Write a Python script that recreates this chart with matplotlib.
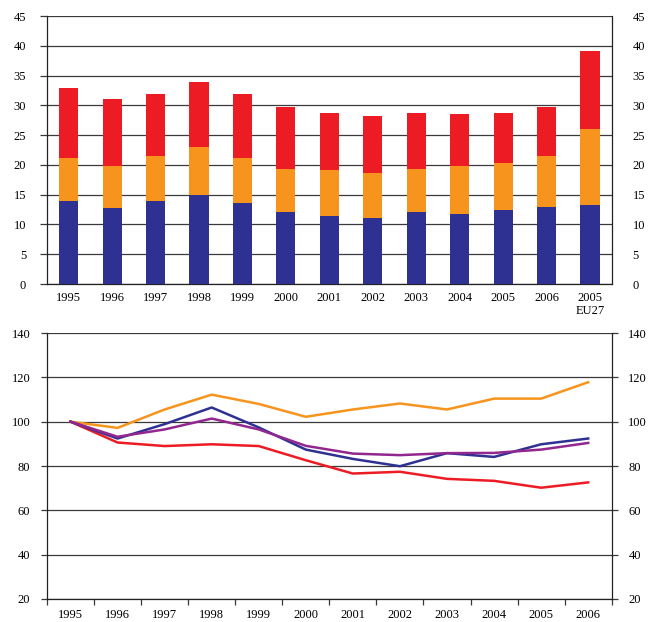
import numpy as np
from matplotlib import pyplot as plt
from matplotlib.ticker import FixedLocator

# Stacked bars (upper panel)
bar_labels = ["1995", "1996", "1997", "1998", "1999", "2000", "2001",
              "2002", "2003", "2004", "2005", "2006", "2005\nEU27"]
bar_blue = [14.0, 12.8, 13.9, 14.9, 13.6, 12.1, 11.4, 11.1, 12.1, 11.7, 12.4, 12.9, 13.2]
bar_orange = [7.1, 7.0, 7.6, 8.1, 7.5, 7.3, 7.7, 7.5, 7.3, 8.1, 8.0, 8.6, 12.8]
bar_red = [11.9, 11.2, 10.5, 10.9, 10.9, 10.3, 9.6, 9.6, 9.3, 8.7, 8.4, 8.3, 13.2]

# Index lines (lower panel), 1995 = 100
years = ["1995", "1996", "1997", "1998", "1999", "2000",
         "2001", "2002", "2003", "2004", "2005", "2006"]
idx_orange = [100, 97.2, 105.5, 112.2, 108.0, 102.2, 105.5, 108.2, 105.5, 110.4, 110.4, 117.8]
idx_blue = [100, 92.4, 98.9, 106.4, 97.4, 87.4, 83.2, 79.9, 85.8, 84.1, 89.8, 92.4]
idx_purple = [100, 93.2, 96.5, 101.4, 96.5, 89.1, 85.6, 84.9, 85.8, 85.9, 87.4, 90.4]
idx_red = [100, 90.6, 89.0, 89.8, 89.0, 82.6, 76.6, 77.4, 74.2, 73.3, 70.2, 72.6]

BLUE = "#2e3192"
ORANGE = "#f7941d"
RED = "#ed1c24"
PURPLE = "#92278f"
GRID = "#3a3a3a"

plt.rcParams["font.family"] = ["Liberation Serif", "DejaVu Serif"]
plt.rcParams["font.size"] = 9


def _style_spines(ax):
    ax.spines["top"].set_visible(False)
    for s in ("left", "right", "bottom"):
        ax.spines[s].set_color("#222222")
        ax.spines[s].set_linewidth(0.9)


fig = plt.figure(figsize=(6.48, 6.22), dpi=100)
ax1 = fig.add_axes([0.0725, 0.5434, 0.8715, 0.4306])
ax2 = fig.add_axes([0.0725, 0.037, 0.8715, 0.4276])

# --- upper panel ---
x = np.arange(len(bar_labels))
blue = np.array(bar_blue)
orange = np.array(bar_orange)
red = np.array(bar_red)
ax1.bar(x, blue, width=0.44, color=BLUE, zorder=3)
ax1.bar(x, orange, width=0.44, bottom=blue, color=ORANGE, zorder=3)
ax1.bar(x, red, width=0.44, bottom=blue + orange, color=RED, zorder=3)

ax1.set_xlim(-0.5, len(bar_labels) - 0.5)
ax1.set_ylim(0, 45)
ax1.set_yticks(np.arange(0, 46, 5))
ax1.set_xticks(x)
ax1.set_xticklabels(bar_labels, linespacing=1.1)
ax1.yaxis.grid(True, color=GRID, lw=0.9, zorder=0)
ax1.tick_params(axis="x", length=0, pad=6)
ax1.tick_params(axis="y", left=True, right=False, labelleft=True, labelright=True,
                length=5, width=0.9, color=GRID, pad=10)
_style_spines(ax1)

# --- lower panel ---
xl = np.arange(len(years))
ax2.plot(xl, idx_orange, color=ORANGE, lw=1.8, zorder=3)
ax2.plot(xl, idx_red, color=RED, lw=1.8, zorder=3)
ax2.plot(xl, idx_blue, color=BLUE, lw=1.8, zorder=4)
ax2.plot(xl, idx_purple, color=PURPLE, lw=1.8, zorder=5)

ax2.set_xlim(-0.5, len(years) - 0.5)
ax2.set_ylim(20, 140)
ax2.set_yticks(np.arange(20, 141, 20))
ax2.set_xticks(xl)
ax2.set_xticklabels(years)
ax2.xaxis.set_minor_locator(FixedLocator(np.arange(-0.5, len(years), 1.0)))
ax2.yaxis.grid(True, color=GRID, lw=0.9, zorder=0)
ax2.tick_params(axis="x", which="major", length=0, pad=7)
ax2.tick_params(axis="x", which="minor", length=4, width=0.9, color=GRID)
ax2.tick_params(axis="y", left=True, right=True, labelleft=True, labelright=True,
                length=4, width=0.9, color=GRID, pad=8)
_style_spines(ax2)

fig.savefig("out.png", dpi=100)
